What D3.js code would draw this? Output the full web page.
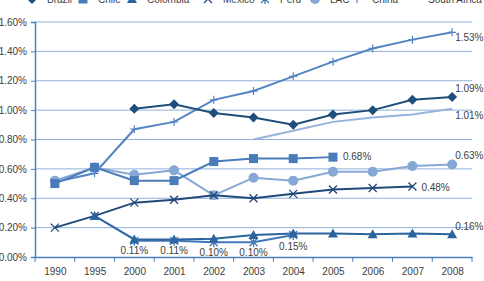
<!DOCTYPE html>
<html>
<head>
<meta charset="utf-8">
<script src="https://cdn.jsdelivr.net/npm/d3@7"></script>
<style>
  body { margin: 0; background: #fff; }
  svg { display: block; font-family: 'Liberation Sans', Arial, sans-serif; }
</style>
</head>
<body>
<div id="chart"></div>
<script>
// years on the x axis
var years = ['1990','1995','2000','2001','2002','2003','2004','2005','2006','2007','2008'];
var yTicks = [0, 0.2, 0.4, 0.6, 0.8, 1.0, 1.2, 1.4, 1.6];

// series values (% ), null = no data
var brazil   = [null, null, 1.01, 1.04, 0.98, 0.95, 0.90, 0.97, 1.00, 1.07, 1.09];
var chile    = [0.50, 0.61, 0.52, 0.52, 0.65, 0.67, 0.67, 0.68, null, null, null];
var colombia = [null, 0.28, 0.12, 0.12, 0.125, 0.15, 0.16, 0.16, 0.155, 0.16, 0.155];
var mexico   = [0.20, 0.28, 0.37, 0.39, 0.42, 0.40, 0.43, 0.46, 0.47, 0.48, null];
var peru     = [null, null, 0.11, 0.11, 0.10, 0.10, 0.15, null, null, null, null];
var lac      = [0.52, 0.61, 0.56, 0.59, 0.42, 0.54, 0.52, 0.58, 0.58, 0.62, 0.63];
var china    = [0.51, 0.57, 0.87, 0.92, 1.07, 1.13, 1.23, 1.33, 1.42, 1.48, 1.53];
var southAfrica = [null, null, null, null, null, 0.80, 0.86, 0.92, 0.95, 0.97, 1.01];

var series = [
  { name: 'Brazil', values: brazil, color: '#1f4e7a', marker: 'diamond' },
  { name: 'Chile', values: chile, color: '#4a7cba', marker: 'square' },
  { name: 'Colombia', values: colombia, color: '#2c64a0', marker: 'triangle' },
  { name: 'Mexico', values: mexico, color: '#22497a', marker: 'cross' },
  { name: 'Peru', values: peru, color: '#4277b6', marker: 'star' },
  { name: 'LAC', values: lac, color: '#86a8d6', marker: 'circle' },
  { name: 'China', values: china, color: '#5584c3', marker: 'plus' },
  { name: 'South Africa', values: southAfrica, color: '#95b5df', marker: 'none' }
];

// point labels: [series, year index, text, dx, dy, anchor]
var labels = [
  ['China', 10, '1.53%', 3, 9, 'start'],
  ['Brazil', 10, '1.09%', 3, -5, 'start'],
  ['South Africa', 10, '1.01%', 3, 10, 'start'],
  ['Chile', 7, '0.68%', 10, 3, 'start'],
  ['LAC', 10, '0.63%', 3, -5, 'start'],
  ['Mexico', 9, '0.48%', 9, 4, 'start'],
  ['Colombia', 10, '0.16%', 3, -4, 'start'],
  ['Peru', 2, '0.11%', 0, 13, 'middle'],
  ['Peru', 3, '0.11%', 0, 13, 'middle'],
  ['Peru', 4, '0.10%', 0, 14, 'middle'],
  ['Peru', 5, '0.10%', 0, 14, 'middle'],
  ['Peru', 6, '0.15%', 0, 15, 'middle']
];

var width = 484, height = 281;
var m = { left: 35, right: 472, top: 22, bottom: 257 };

var svg = d3.select('#chart').append('svg')
  .attr('width', width)
  .attr('height', height);

var x = d3.scalePoint().domain(years).range([m.left, m.right]).padding(0.5);
var y = d3.scaleLinear().domain([0, 1.6]).range([m.bottom, m.top]);

// gridlines
svg.append('g')
  .selectAll('line')
  .data(yTicks.filter(function(d) { return d > 0; }))
  .join('line')
  .attr('x1', m.left).attr('x2', m.right)
  .attr('y1', function(d) { return y(d); })
  .attr('y2', function(d) { return y(d); })
  .attr('stroke', '#8fb0dc')
  .attr('stroke-width', 1);

// y axis
var yAxis = d3.axisLeft(y).tickValues(yTicks).tickSize(4)
  .tickFormat(function(d) { return d.toFixed(2) + '%'; });
var gy = svg.append('g').attr('transform', 'translate(' + m.left + ',0)').call(yAxis);
gy.select('.domain').attr('stroke', '#4f7fbf').attr('stroke-width', 1.5);
gy.selectAll('.tick line').attr('stroke', '#4f7fbf');
gy.selectAll('text').attr('font-size', 10).attr('fill', '#404040')
  .attr('x', -8).style('font-family', "'Liberation Sans', Arial, sans-serif");

// x axis
var xAxis = d3.axisBottom(x).tickSize(0);
var gx = svg.append('g').attr('transform', 'translate(0,' + m.bottom + ')').call(xAxis);
gx.select('.domain').attr('stroke', '#4f7fbf').attr('stroke-width', 1.5);
gx.selectAll('text').attr('font-size', 10).attr('fill', '#404040')
  .attr('dy', '1.45em').style('font-family', "'Liberation Sans', Arial, sans-serif");
// category separators
var step = x.step();
gx.selectAll('.sep')
  .data(d3.range(years.length + 1))
  .join('line')
  .attr('class', 'sep')
  .attr('x1', function(i) { return m.left + i * step; })
  .attr('x2', function(i) { return m.left + i * step; })
  .attr('y1', 0).attr('y2', 5)
  .attr('stroke', '#4f7fbf');

function drawMarker(g, type, color, cx, cy) {
  if (type === 'diamond') {
    g.append('path').attr('d', 'M' + cx + ',' + (cy - 5) + 'L' + (cx + 5) + ',' + cy + 'L' + cx + ',' + (cy + 5) + 'L' + (cx - 5) + ',' + cy + 'Z')
      .attr('fill', color);
  } else if (type === 'square') {
    g.append('rect').attr('x', cx - 4.5).attr('y', cy - 4.5).attr('width', 9).attr('height', 9).attr('fill', color);
  } else if (type === 'triangle') {
    g.append('path').attr('d', 'M' + cx + ',' + (cy - 5) + 'L' + (cx + 5) + ',' + (cy + 4) + 'L' + (cx - 5) + ',' + (cy + 4) + 'Z')
      .attr('fill', color);
  } else if (type === 'circle') {
    g.append('circle').attr('cx', cx).attr('cy', cy).attr('r', 5).attr('fill', color);
  } else if (type === 'cross') {
    g.append('path').attr('d', 'M' + (cx - 4) + ',' + (cy - 4) + 'L' + (cx + 4) + ',' + (cy + 4) + 'M' + (cx - 4) + ',' + (cy + 4) + 'L' + (cx + 4) + ',' + (cy - 4))
      .attr('stroke', color).attr('stroke-width', 1.3);
  } else if (type === 'star') {
    g.append('path').attr('d', 'M' + (cx - 4) + ',' + (cy - 4) + 'L' + (cx + 4) + ',' + (cy + 4) + 'M' + (cx - 4) + ',' + (cy + 4) + 'L' + (cx + 4) + ',' + (cy - 4) + 'M' + cx + ',' + (cy - 5) + 'L' + cx + ',' + (cy + 5))
      .attr('stroke', color).attr('stroke-width', 1.3);
  } else if (type === 'plus') {
    g.append('path').attr('d', 'M' + (cx - 4) + ',' + cy + 'L' + (cx + 4) + ',' + cy + 'M' + cx + ',' + (cy - 4) + 'L' + cx + ',' + (cy + 4))
      .attr('stroke', color).attr('stroke-width', 1.2);
  }
}

var line = d3.line()
  .defined(function(d) { return d.v !== null; })
  .x(function(d) { return x(d.year); })
  .y(function(d) { return y(d.v); });

// draw in reverse so Brazil ends on top
var drawOrder = ['South Africa', 'China', 'LAC', 'Peru', 'Mexico', 'Colombia', 'Chile', 'Brazil'];
drawOrder.forEach(function(name) {
  var s = series.find(function(d) { return d.name === name; });
  var pts = years.map(function(yr, i) { return { year: yr, v: s.values[i] }; });
  var g = svg.append('g');
  g.append('path')
    .datum(pts)
    .attr('d', line)
    .attr('fill', 'none')
    .attr('stroke', s.color)
    .attr('stroke-width', 2);
  pts.filter(function(d) { return d.v !== null; }).forEach(function(d) {
    drawMarker(g, s.marker, s.color, x(d.year), y(d.v));
  });
});

// data labels
svg.append('g')
  .selectAll('text')
  .data(labels)
  .join('text')
  .attr('x', function(d) { return x(years[d[1]]) + d[3]; })
  .attr('y', function(d) {
    var s = series.find(function(e) { return e.name === d[0]; });
    return y(s.values[d[1]]) + d[4];
  })
  .attr('text-anchor', function(d) { return d[5]; })
  .attr('font-size', 10)
  .attr('fill', '#404040')
  .text(function(d) { return d[2]; });

// legend (partly cut off at top)
var legendX = [20, 71, 120, 196, 253, 303, 345, 401];
var lg = svg.append('g').attr('transform', 'translate(0,-1)');
series.forEach(function(s, i) {
  var lx = legendX[i];
  lg.append('line').attr('x1', lx).attr('x2', lx + 24).attr('y1', 0).attr('y2', 0)
    .attr('stroke', s.color).attr('stroke-width', 2);
  drawMarker(lg, s.marker, s.color, lx + 12, 0);
  lg.append('text').attr('x', lx + 27).attr('y', 4)
    .attr('font-size', 10).attr('fill', '#404040').text(s.name);
});
</script>
</body>
</html>
